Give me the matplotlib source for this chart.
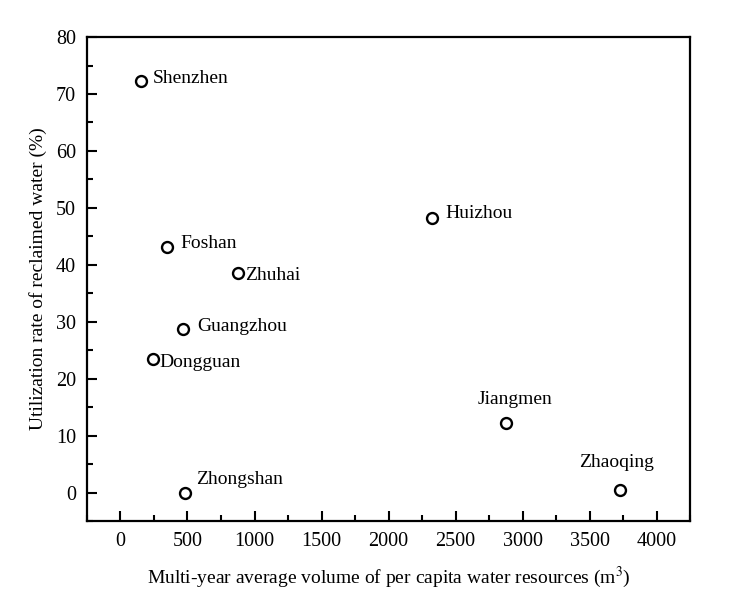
import matplotlib
matplotlib.use("Agg")
import matplotlib.pyplot as plt
from matplotlib.ticker import MultipleLocator

# per capita water resources (m3) vs reclaimed water utilization (%)
cities = ["Shenzhen", "Foshan", "Zhuhai", "Guangzhou", "Dongguan",
          "Zhongshan", "Huizhou", "Jiangmen", "Zhaoqing"]
water = [150, 350, 880, 470, 240, 478, 2328, 2873, 3724]
rate = [72.2, 43.1, 38.6, 28.8, 23.5, 0.0, 48.3, 12.3, 0.5]

# label offsets in points (dx, dy) and alignment
offsets = {
    "Shenzhen": (9, 2, "left"),
    "Foshan": (9, 3, "left"),
    "Zhuhai": (5, -2, "left"),
    "Guangzhou": (10, 1.5, "left"),
    "Dongguan": (5, -3, "left"),
    "Zhongshan": (8, 9.5, "left"),
    "Huizhou": (9, 3, "left"),
    "Jiangmen": (7, 16.5, "center"),
    "Zhaoqing": (-2, 19.5, "center"),
}

plt.rcParams["font.family"] = ["Liberation Serif", "DejaVu Serif"]
plt.rcParams["mathtext.fontset"] = "stix"

fig = plt.figure(figsize=(7.46, 6.08), dpi=100)
ax = fig.add_axes([0.1166, 0.143, 0.8084, 0.796])

ax.scatter(water, rate, s=62, facecolors="white", edgecolors="black",
           linewidths=1.7, zorder=3)
for name, x, y in zip(cities, water, rate):
    dx, dy, ha = offsets[name]
    ax.annotate(name, (x, y), xytext=(dx, dy), textcoords="offset points",
                ha=ha, va="center", fontsize=14)

ax.set_xlim(-250, 4250)
ax.set_ylim(-5, 80)
ax.xaxis.set_major_locator(MultipleLocator(500))
ax.xaxis.set_minor_locator(MultipleLocator(250))
ax.yaxis.set_major_locator(MultipleLocator(10))
ax.yaxis.set_minor_locator(MultipleLocator(5))
ax.tick_params(which="both", direction="in", labelsize=14.5, width=1.5)
ax.tick_params(which="major", length=7, pad=8)
ax.tick_params(which="minor", length=4)
for sp in ax.spines.values():
    sp.set_linewidth(1.6)

ax.set_xlabel("Multi-year average volume of per capita water resources (m$^3$)",
              fontsize=14, labelpad=10)
ax.set_ylabel("Utilization rate of reclaimed water (%)", fontsize=14, labelpad=6)

fig.savefig("out.png", dpi=100)
